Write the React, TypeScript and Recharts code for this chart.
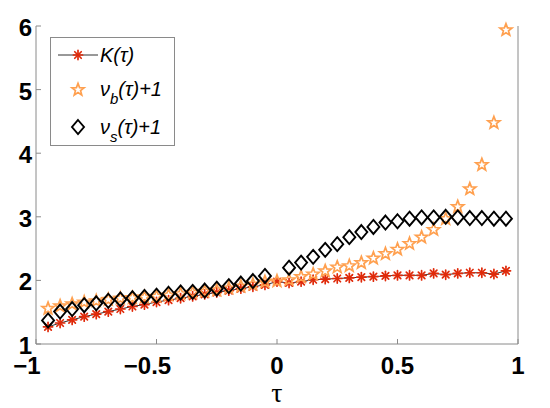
import { ComposedChart, Line, XAxis, YAxis, Legend, Label } from 'recharts';

const tau = [
  -0.95, -0.9, -0.85, -0.8, -0.75, -0.7, -0.65, -0.6, -0.55, -0.5,
  -0.45, -0.4, -0.35, -0.3, -0.25, -0.2, -0.15, -0.1, -0.05, 0,
  0.05, 0.1, 0.15, 0.2, 0.25, 0.3, 0.35, 0.4, 0.45, 0.5,
  0.55, 0.6, 0.65, 0.7, 0.75, 0.8, 0.85, 0.9, 0.95,
];

const kTau = [
  1.27, 1.33, 1.38, 1.43, 1.47, 1.51, 1.55, 1.59, 1.62, 1.66,
  1.69, 1.72, 1.75, 1.78, 1.81, 1.84, 1.87, 1.9, 1.93, 1.98,
  1.96, 1.98, 2.01, 2.02, 2.03, 2.04, 2.05, 2.06, 2.07, 2.08,
  2.08, 2.08, 2.11, 2.09, 2.11, 2.12, 2.12, 2.1, 2.15,
];

const nuB = [
  1.57, 1.61, 1.64, 1.67, 1.69, 1.71, 1.73, 1.74, 1.75, 1.76,
  1.78, 1.8, 1.82, 1.84, 1.86, 1.89, 1.92, 1.95, 1.99, 2.0,
  2.02, 2.07, 2.11, 2.16, 2.22, 2.24, 2.29, 2.36, 2.43, 2.5,
  2.59, 2.69, 2.81, 2.98, 3.17, 3.45, 3.83, 4.49, 5.95,
];

const nuS: (number | null)[] = [
  1.37, 1.51, 1.55, 1.61, 1.64, 1.68, 1.7, 1.72, 1.74, 1.76,
  1.79, 1.81, 1.82, 1.84, 1.87, 1.91, 1.95, 1.99, 2.07, null,
  2.2, 2.28, 2.37, 2.48, 2.57, 2.68, 2.76, 2.84, 2.91, 2.93,
  2.97, 2.99, 2.99, 3.0, 2.99, 2.98, 2.98, 2.97, 2.97,
];

const xTicks = [-1, -0.5, 0, 0.5, 1];
const yTicks = [1, 2, 3, 4, 5, 6];

const data = tau.map((t, i) => ({ tau: t, K: kTau[i], vb: nuB[i], vs: nuS[i] }));

const RED = '#e02a0a';
const ORANGE = '#ffa04f';
const AXIS = '#8a8a8a';
const FONT = '"Liberation Sans", Arial, Helvetica, sans-serif';

function Asterisk({ cx, cy }: { cx: number; cy: number }) {
  const r = 4.6;
  const d = r * 0.707;
  return (
    <g stroke={RED} strokeWidth={1.7} strokeLinecap="round">
      <line x1={cx - r} y1={cy} x2={cx + r} y2={cy} />
      <line x1={cx} y1={cy - r} x2={cx} y2={cy + r} />
      <line x1={cx - d} y1={cy - d} x2={cx + d} y2={cy + d} />
      <line x1={cx - d} y1={cy + d} x2={cx + d} y2={cy - d} />
    </g>
  );
}

function Star({ cx, cy }: { cx: number; cy: number }) {
  const R = 6.4;
  const r = R * 0.42;
  const pts: string[] = [];
  for (let k = 0; k < 10; k++) {
    const a = -Math.PI / 2 + (k * Math.PI) / 5;
    const rad = k % 2 === 0 ? R : r;
    pts.push(`${cx + rad * Math.cos(a)},${cy + rad * Math.sin(a) + 0.8}`);
  }
  return <polygon points={pts.join(' ')} fill="none" stroke={ORANGE} strokeWidth={1.7} strokeLinejoin="miter" />;
}

function Diamond({ cx, cy }: { cx: number; cy: number }) {
  const w = 6;
  const h = 7;
  return (
    <polygon
      points={`${cx},${cy - h} ${cx + w},${cy} ${cx},${cy + h} ${cx - w},${cy}`}
      fill="none"
      stroke="#000"
      strokeWidth={1.9}
    />
  );
}

const dotWith = (Shape: any) => (p: any) => {
  const key = `d-${p.index}`;
  if (p.value == null || p.cx == null || p.cy == null || Number.isNaN(p.cy)) return <g key={key} />;
  return <Shape key={key} cx={p.cx} cy={p.cy} />;
};

function XTick(props: any) {
  const { x, y, payload } = props;
  const v = payload.value as number;
  const label = v < 0 ? `\u2212${Math.abs(v)}` : `${v}`;
  return (
    <text x={x + (v < 0 ? -9 : 0)} y={y} textAnchor="middle" fontFamily={FONT} fontWeight="bold" fontSize={24} fill="#000">
      {label}
    </text>
  );
}

function YTick(props: any) {
  const { x, y, payload } = props;
  return (
    <text x={x} y={y} dy="0.42em" textAnchor="end" fontFamily={FONT} fontWeight="bold" fontSize={24} fill="#000">
      {payload.value}
    </text>
  );
}

const legendRows = [
  { key: 'K', shape: Asterisk, line: true, base: 'K(\u03c4)', sub: '', tail: '' },
  { key: 'vb', shape: Star, line: false, base: '\u03bd', sub: 'b', tail: '(\u03c4)+1' },
  { key: 'vs', shape: Diamond, line: false, base: '\u03bd', sub: 's', tail: '(\u03c4)+1' },
];
const legendRowY = [17, 51, 89];

function LegendBox() {
  return (
    <div
      style={{
        boxSizing: 'border-box',
        width: 125,
        height: 109,
        border: `1px solid ${AXIS}`,
        background: '#fff',
        position: 'relative',
        fontFamily: FONT,
        fontStyle: 'italic',
        fontSize: 20,
        color: '#000',
      }}
    >
      {legendRows.map((row, i) => {
        const Shape = row.shape;
        return (
          <div key={row.key} style={{ position: 'absolute', left: 0, top: legendRowY[i] - 15, height: 30, width: 125 }}>
            <svg width={46} height={30} style={{ position: 'absolute', left: 4, top: 0 }}>
              {row.line && <line x1={3} y1={15} x2={43} y2={15} stroke="#333" strokeWidth={1} />}
              <Shape cx={23} cy={15} />
            </svg>
            <div style={{ position: 'absolute', left: 49, top: 0, height: 30, lineHeight: '30px', whiteSpace: 'nowrap' }}>
              {row.base}
              {row.sub && <span style={{ fontSize: 15, position: 'relative', top: 8 }}>{row.sub}</span>}
              {row.tail}
            </div>
          </div>
        );
      })}
    </div>
  );
}

export default function App() {
  return (
    <div style={{ position: 'absolute', left: 0, top: 0, width: 550, height: 408, background: '#fff' }}>
      <ComposedChart width={550} height={408} data={data} margin={{ top: 26, right: 0, bottom: 0, left: 0 }}>
        <XAxis
          dataKey="tau"
          type="number"
          domain={[-1, 1]}
          ticks={xTicks}
          stroke={AXIS}
          tickSize={-5}
          tickMargin={35}
          tick={<XTick />}
          height={64}
        >
          <Label
            value={'\u03c4'}
            position="insideBottom"
            offset={6}
            style={{ fontFamily: '"Liberation Serif", "Times New Roman", serif', fontSize: 28, fill: '#000' }}
          />
        </XAxis>
        <XAxis
          xAxisId="top"
          orientation="top"
          type="number"
          domain={[-1, 1]}
          ticks={xTicks}
          allowDataOverflow
          stroke={AXIS}
          tickSize={-5}
          tick={false}
          height={0}
        />
        <YAxis
          type="number"
          domain={[1, 6]}
          ticks={yTicks}
          stroke={AXIS}
          tickSize={-5}
          tickMargin={9}
          tick={<YTick />}
          width={36}
        />
        <YAxis
          yAxisId="right"
          orientation="right"
          type="number"
          domain={[1, 6]}
          ticks={yTicks}
          allowDataOverflow
          stroke={AXIS}
          tickSize={-5}
          tick={false}
          width={32}
        />
        <Legend
          content={() => <LegendBox />}
          layout="horizontal"
          verticalAlign="middle"
          align="center"
          wrapperStyle={{ left: 50, top: 37, width: 125, height: 109 }}
        />
        <Line
          dataKey="K"
          name="K(τ)"
          stroke="#333"
          strokeWidth={1}
          dot={dotWith(Asterisk)}
          activeDot={false}
          isAnimationActive={false}
        />
        <Line
          dataKey="vb"
          name="νb(τ)+1"
          stroke="none"
          dot={dotWith(Star)}
          activeDot={false}
          isAnimationActive={false}
        />
        <Line
          dataKey="vs"
          name="νs(τ)+1"
          stroke="none"
          dot={dotWith(Diamond)}
          activeDot={false}
          connectNulls={false}
          isAnimationActive={false}
        />
      </ComposedChart>
    </div>
  );
}
